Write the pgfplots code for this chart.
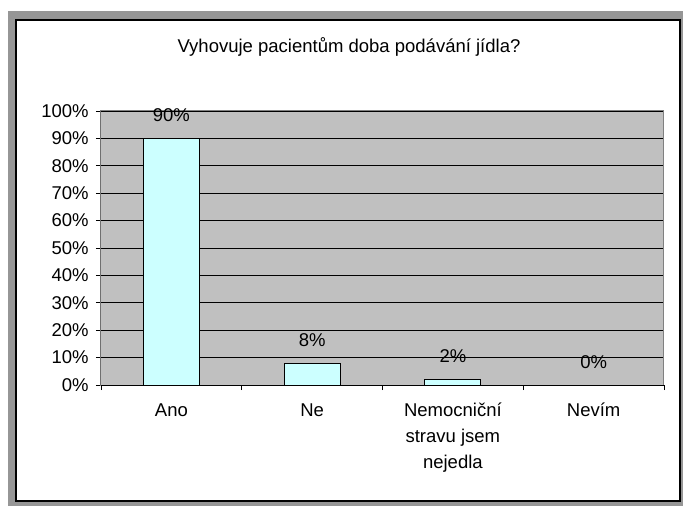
\documentclass[border=0pt]{standalone}
\usepackage{fontspec}
\setmainfont{Liberation Sans}
\usepackage{pgfplots}
\pgfplotsset{compat=1.18}
\definecolor{framegrey}{HTML}{969696}
\definecolor{plotbg}{HTML}{C0C0C0}
\definecolor{barfill}{HTML}{CCFFFF}
\definecolor{bordergrey}{HTML}{808080}
\begin{document}
\fontsize{18.5}{22}\selectfont
\begin{tikzpicture}
\useasboundingbox (-101pt,-121pt) rectangle (582pt,385pt);
\fill[framegrey] (-93pt,-121pt) rectangle (582pt,374pt);
\filldraw[fill=white, draw=black, line width=1.5pt] (-85pt,-116pt) rectangle (579pt,365pt);
\node[anchor=base, inner sep=0pt] at (248pt,332pt) {Vyhovuje pacientům doba podávání jídla?};
\begin{axis}[
  scale only axis, width=563pt, height=274pt,
  xmin=-0.5, xmax=3.5, ymin=0, ymax=100,
  /pgf/number format/assume math mode=true,
  axis background/.style={fill=plotbg},
  axis line style={draw=bordergrey, line width=1pt},
  ytick={0,10,...,100},
  yticklabels={0\%,10\%,20\%,30\%,40\%,50\%,60\%,70\%,80\%,90\%,100\%},
  yticklabel style={xshift=-1pt},
  ymajorgrids, major grid style={black, line width=0.8pt},
  ytick pos=left, xtick pos=bottom,
  tick align=outside, major tick length=5pt,
  tick style={black, line width=0.8pt},
  xtick={-0.5,0.5,1.5,2.5,3.5},
  xticklabels={},
  extra x ticks={0,1,2,3},
  extra x tick labels={Ano, Ne, {Nemocniční\\stravu jsem\\nejedla}, Nevím},
  extra x tick style={major tick length=0pt, tick style={draw=none}},
  xticklabel style={align=center, font=\fontsize{18.5}{26}\selectfont, yshift=-12pt},
  ybar, bar width=56pt,
  nodes near coords={\pgfmathprintnumber{\pgfplotspointmeta}\%},
  every node near coord/.append style={anchor=center, yshift=23pt},
]
\addplot[fill=barfill, draw=black, line width=1pt] coordinates {(0,90) (1,8) (2,2) (3,0)};
\draw[black, line width=1pt] (rel axis cs:0,0) -- (rel axis cs:0,1);
\draw[black, line width=1pt] (rel axis cs:0,0) -- (rel axis cs:1,0);
\end{axis}
\end{tikzpicture}
\end{document}
